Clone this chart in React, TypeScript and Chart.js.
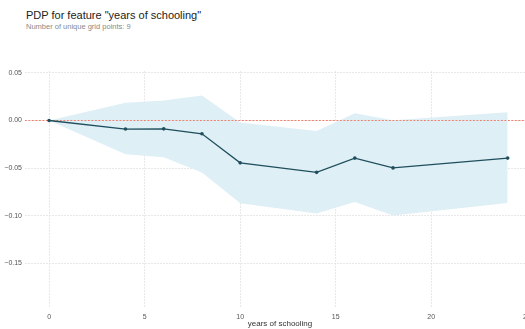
import React, { useEffect, useRef } from "react";
import { Chart, registerables } from "chart.js";

Chart.register(...registerables);

// Grid values of the feature and the partial dependence at each of them
const gridPoints = [0, 4, 6, 8, 10, 14, 16, 18, 24];
const pdpValues = [0, -0.009, -0.0088, -0.014, -0.0445, -0.0545, -0.0395, -0.0498, -0.0395];
const upperBound = [0, 0.0186, 0.021, 0.0263, -0.0021, -0.011, 0.0077, 0.0003, 0.0087];
const lowerBound = [0, -0.0354, -0.0386, -0.0547, -0.087, -0.0976, -0.0856, -0.0997, -0.0867];
const yTicks = [0.05, 0, -0.05, -0.1, -0.15];
const xTicks = [0, 5, 10, 15, 20, 25];

const FONT = "Liberation Sans, Arial, sans-serif";
const GRID_COLOR = "#e2e2e2";

const toPoints = (ys: number[]) => gridPoints.map((x, i) => ({ x, y: ys[i] }));

export default function App() {
  const canvasRef = useRef<HTMLCanvasElement | null>(null);

  useEffect(() => {
    if (!canvasRef.current) return;
    const chart = new Chart(canvasRef.current, {
      type: "line",
      data: {
        datasets: [
          {
            label: "upper",
            data: toPoints(upperBound),
            borderWidth: 0,
            pointRadius: 0,
            fill: false,
            backgroundColor: "rgba(0,0,0,0)",
            order: 3,
          },
          {
            label: "lower",
            data: toPoints(lowerBound),
            borderWidth: 0,
            pointRadius: 0,
            fill: "-1",
            backgroundColor: "rgb(222,239,246)",
            order: 3,
          },
          {
            label: "zero",
            data: [
              { x: -2, y: 0 },
              { x: 30, y: 0 },
            ],
            borderColor: "rgb(240,128,110)",
            borderWidth: 1,
            borderDash: [2, 1.5],
            pointRadius: 0,
            fill: false,
            order: 2,
          },
          {
            label: "pdp",
            data: toPoints(pdpValues),
            borderColor: "#1f4e5c",
            backgroundColor: "#1f4e5c",
            borderWidth: 1.3,
            pointRadius: 1.8,
            pointBorderWidth: 0,
            fill: false,
            order: 1,
          },
        ],
      },
      options: {
        animation: false,
        responsive: false,
        maintainAspectRatio: false,
        layout: { padding: { top: 71, left: 0, right: 10, bottom: 0 } },
        plugins: {
          legend: { display: false },
          tooltip: { enabled: false },
          title: { display: false },
        },
        scales: {
          x: {
            type: "linear",
            min: -1.26,
            max: 25.43,
            afterBuildTicks: (axis: any) => {
              axis.ticks = xTicks.map((v) => ({ value: v }));
            },
            afterFit: (axis: any) => {
              axis.height = 21;
            },
            border: { display: false, dash: [2, 1] },
            grid: {
              color: GRID_COLOR,
              lineWidth: 0.8,
              drawTicks: false,
            },
            ticks: {
              padding: 5,
              color: "#555",
              font: { family: FONT, size: 7 },
              maxRotation: 0,
              callback: (v: any) => String(v),
            },
            title: {
              display: true,
              text: "years of schooling",
              color: "#333",
              font: { family: FONT, size: 8 },
              padding: { top: 0, bottom: 0 },
            },
          },
          y: {
            type: "linear",
            min: -0.197,
            max: 0.052,
            afterBuildTicks: (axis: any) => {
              axis.ticks = yTicks.map((v) => ({ value: v }));
            },
            afterFit: (axis: any) => {
              axis.width = 25;
            },
            border: { display: false, dash: [2, 1] },
            grid: {
              color: GRID_COLOR,
              lineWidth: 0.8,
              drawTicks: false,
            },
            ticks: {
              padding: 3,
              color: "#555",
              font: { family: FONT, size: 7 },
              callback: (v: any) => {
                const n = Number(v);
                const s = Math.abs(n).toFixed(2);
                return n < -1e-9 ? "\u2212" + s : s;
              },
            },
          },
        },
      },
    });
    return () => chart.destroy();
  }, []);

  return (
    <div
      style={{
        position: "fixed",
        left: 0,
        top: 0,
        width: 525,
        height: 329,
        overflow: "hidden",
        background: "#fff",
        fontFamily: FONT,
      }}
    >
      <div style={{ position: "absolute", left: 26, top: 9, fontSize: 11, lineHeight: "13px", color: "#222", whiteSpace: "nowrap" }}>
        PDP for feature "years of schooling"
      </div>
      <div style={{ position: "absolute", left: 26, top: 22, fontSize: 7.5, lineHeight: "10px", color: "#8a8a8a", whiteSpace: "nowrap" }}>
        Number of unique grid points: 9
      </div>
      <canvas
        ref={canvasRef}
        width={545}
        height={329}
        style={{ position: "absolute", left: 0, top: 0, width: 545, height: 329 }}
      />
    </div>
  );
}
